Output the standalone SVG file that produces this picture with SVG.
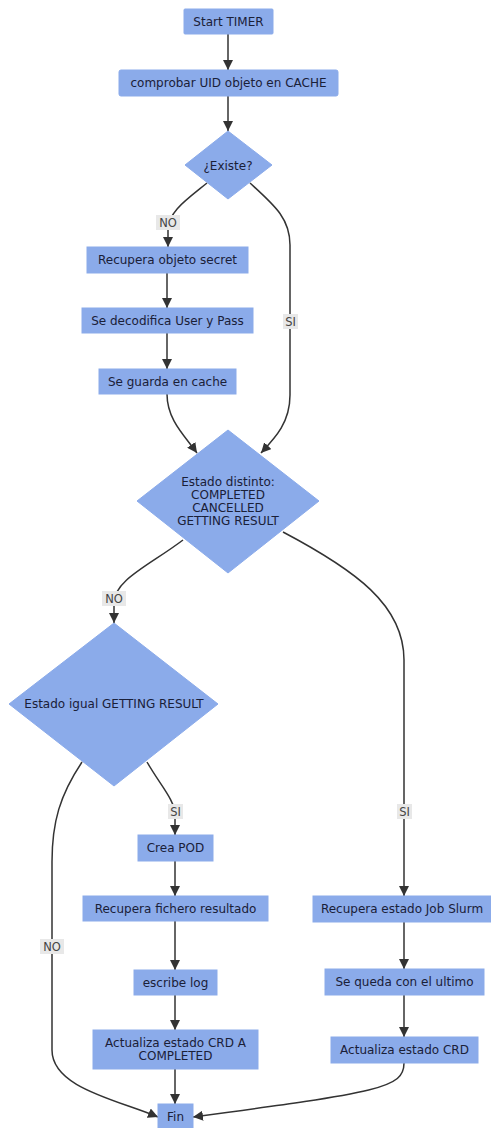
<svg xmlns="http://www.w3.org/2000/svg" width="491" height="1128" viewBox="0 0 491 1128">
  <defs>
    <marker id="arrow" viewBox="0 0 10 10" refX="10" refY="5" markerWidth="10" markerHeight="10" markerUnits="userSpaceOnUse" orient="auto">
      <path d="M0,0 L10,5 L0,10 z" fill="#333"/>
    </marker>
    <style>
      .node rect, .node polygon { fill: #8babea; stroke: #8babea; stroke-width: 1; }
      .node text { font-family: "DejaVu Sans", Verdana, sans-serif; font-size: 12px; fill: #1a2038; text-anchor: middle; dominant-baseline: central; }
      .edge { fill: none; stroke: #333; stroke-width: 1.5; marker-end: url(#arrow); }
      .lbl rect { fill: #e8e8e8; }
      .lbl text { font-family: "DejaVu Sans", Verdana, sans-serif; font-size: 11.5px; fill: #444; text-anchor: middle; dominant-baseline: central; }
    </style>
  </defs>
  <rect width="491" height="1128" fill="#ffffff"/>

  <g id="connectors">
    <path class="edge" d="M228,34 L228,70"/>
    <path class="edge" d="M228,96 L228,131"/>
    <path class="edge" d="M207,183 C186,200 168,212 168,230 L168,247"/>
    <path class="edge" d="M250,183 C274,205 290,218 290,245 L290,395 C290,422 276,437 261,453"/>
    <path class="edge" d="M167,273 L167,308"/>
    <path class="edge" d="M167,333 L167,369"/>
    <path class="edge" d="M167,394 C167,420 185,436 197,453"/>
    <path class="edge" d="M183,540 C150,565 114,580 114,603 L114,623"/>
    <path class="edge" d="M283,532 C355,570 404,605 404,660 L404,896"/>
    <path class="edge" d="M147,762 C160,785 175,800 175,815 L175,835"/>
    <path class="edge" d="M82,762 C60,795 52,822 52,862 L52,1050 C52,1088 118,1100 158,1117"/>
    <path class="edge" d="M175,861 L175,896"/>
    <path class="edge" d="M175,921 L175,970"/>
    <path class="edge" d="M175,995 L175,1030"/>
    <path class="edge" d="M175,1069 L175,1104"/>
    <path class="edge" d="M404,922 L404,969"/>
    <path class="edge" d="M404,995 L404,1037"/>
    <path class="edge" d="M404,1063 C404,1088 380,1092 193,1117"/>

    <g class="lbl"><rect x="156" y="215" width="24" height="15"/><text x="168" y="222.5">NO</text></g>
    <g class="lbl"><rect x="283" y="314" width="15" height="15"/><text x="290.5" y="321.5">SI</text></g>
    <g class="lbl"><rect x="102" y="591" width="24" height="15"/><text x="114" y="598.5">NO</text></g>
    <g class="lbl"><rect x="397" y="804" width="15" height="15"/><text x="404.5" y="811.5">SI</text></g>
    <g class="lbl"><rect x="168" y="804" width="15" height="15"/><text x="175.5" y="811.5">SI</text></g>
    <g class="lbl"><rect x="40" y="939" width="24" height="15"/><text x="52" y="946.5">NO</text></g>
  </g>

  <g id="start" class="node"><rect x="184" y="9" width="89" height="25" rx="1"/><text x="228.5" y="21.5">Start TIMER</text></g>
  <g id="comprobar" class="node"><rect x="119" y="70" width="219" height="26" rx="2"/><text x="228.5" y="83">comprobar UID objeto en CACHE</text></g>
  <g id="existe" class="node"><polygon points="228,131 272,165 228,199 185,165"/><text x="228" y="166">¿Existe?</text></g>
  <g id="recupera-secret" class="node"><rect x="87" y="247" width="161" height="26"/><text x="167.5" y="260">Recupera objeto secret</text></g>
  <g id="decodifica" class="node"><rect x="82" y="308" width="171" height="25"/><text x="167.5" y="320.5">Se decodifica User y Pass</text></g>
  <g id="guarda-cache" class="node"><rect x="99" y="369" width="137" height="25"/><text x="167.5" y="381.5">Se guarda en cache</text></g>
  <g id="estado-distinto" class="node"><polygon points="228,430 319,501 228,573 137,501"/>
    <text x="228" y="482">Estado distinto:</text>
    <text x="228" y="495">COMPLETED</text>
    <text x="228" y="508">CANCELLED</text>
    <text x="228" y="521">GETTING RESULT</text>
  </g>
  <g id="estado-igual" class="node"><polygon points="114,623 218,704 114,786 9,704"/><text x="114" y="704">Estado igual GETTING RESULT</text></g>
  <g id="crea-pod" class="node"><rect x="138" y="835" width="75" height="26"/><text x="175.5" y="848">Crea POD</text></g>
  <g id="recupera-fichero" class="node"><rect x="83" y="896" width="185" height="25"/><text x="175.5" y="908.5">Recupera fichero resultado</text></g>
  <g id="escribe-log" class="node"><rect x="134" y="970" width="83" height="25"/><text x="175.5" y="982.5">escribe log</text></g>
  <g id="actualiza-completed" class="node"><rect x="93" y="1030" width="165" height="39"/>
    <text x="175.5" y="1043">Actualiza estado CRD A</text>
    <text x="175.5" y="1056">COMPLETED</text>
  </g>
  <g id="fin" class="node"><rect x="158" y="1104" width="35" height="25"/><text x="175.5" y="1117">Fin</text></g>
  <g id="recupera-job" class="node"><rect x="313" y="896" width="178" height="26"/><text x="402" y="909">Recupera estado Job Slurm</text></g>
  <g id="queda-ultimo" class="node"><rect x="325" y="969" width="159" height="26"/><text x="404.5" y="982">Se queda con el ultimo</text></g>
  <g id="actualiza-crd" class="node"><rect x="331" y="1037" width="147" height="26"/><text x="404.5" y="1050">Actualiza estado CRD</text></g>
</svg>
